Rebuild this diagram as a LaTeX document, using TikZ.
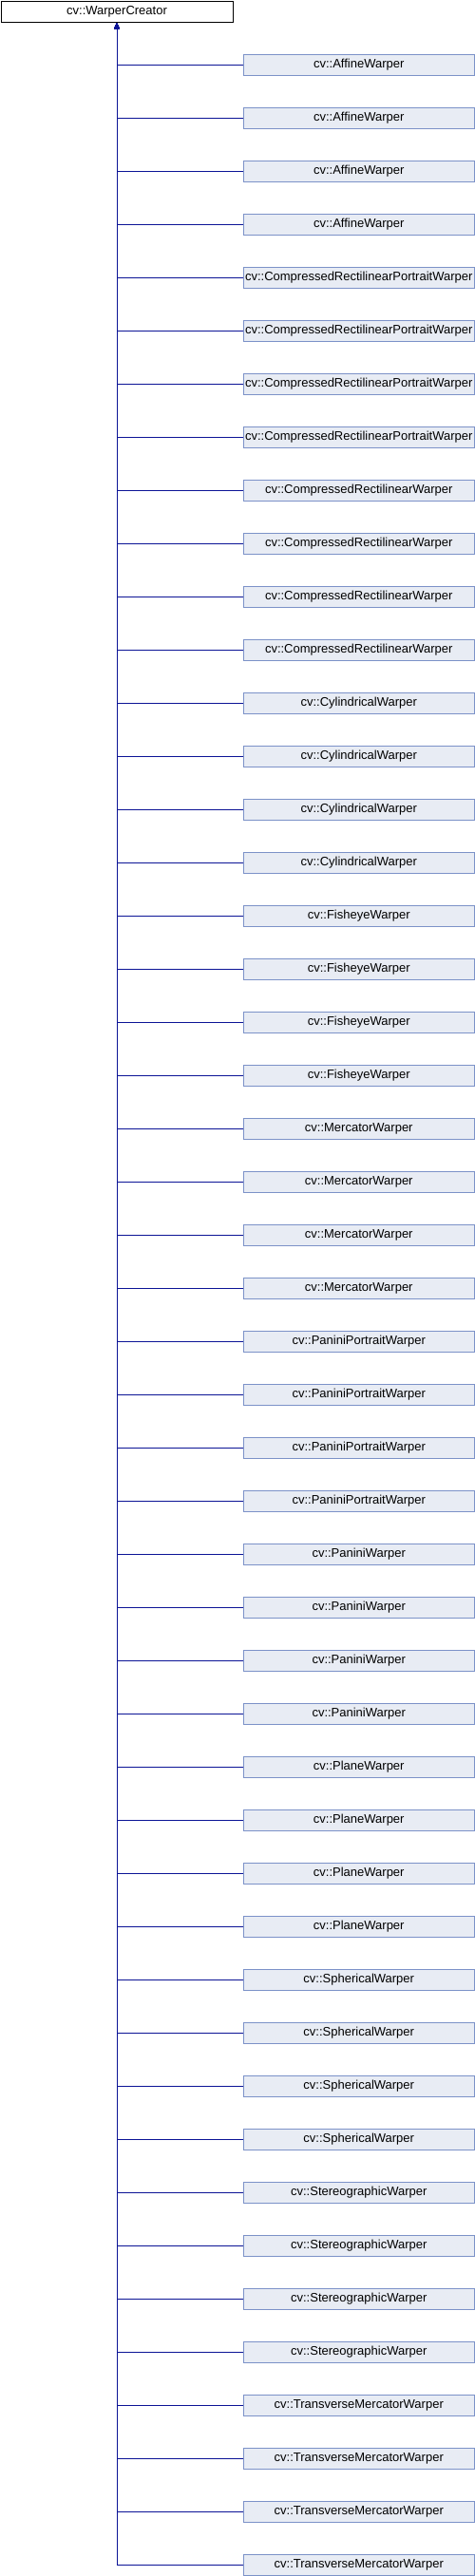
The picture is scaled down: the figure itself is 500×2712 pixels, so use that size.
\documentclass[tikz,border=0pt]{standalone}
\usepackage{fontspec}
\setmainfont{Liberation Sans}
\usetikzlibrary{arrows.meta}
\definecolor{edgeblue}{RGB}{12,20,150}
\definecolor{boxfill}{RGB}{232,236,244}
\definecolor{boxdraw}{RGB}{124,146,200}
\tikzset{
  basebox/.style={draw=black,fill=white,line width=1pt,minimum width=244pt,minimum height=22.5pt,inner sep=0pt,anchor=north west,font=\fontsize{13pt}{15pt}\selectfont},
  childbox/.style={draw=boxdraw,fill=boxfill,line width=1pt,minimum width=243.5pt,minimum height=22.5pt,inner sep=0pt,anchor=north west,font=\fontsize{13pt}{15pt}\selectfont},
  edge/.style={draw=edgeblue,line width=1pt,-{Triangle[length=6pt,width=5pt]}}
}
\begin{document}
\begin{tikzpicture}[x=1pt,y=-1pt]
\useasboundingbox (0,0) rectangle (500,2712);
\node[basebox] (top) at (0.5,0.5) {cv::WarperCreator};
\foreach \nm [count=\k from 0] in {AffineWarper,CompressedRectilinearPortraitWarper,CompressedRectilinearWarper,CylindricalWarper,FisheyeWarper,MercatorWarper,PaniniPortraitWarper,PaniniWarper,PlaneWarper,SphericalWarper,StereographicWarper,TransverseMercatorWarper}{
  \foreach \j in {0,1,2,3}{
    \pgfmathtruncatemacro{\idx}{4*\k+\j}
    \pgfmathsetmacro{\yy}{56.5+56*\idx}
    \node[childbox] (c\idx) at (255.5,\yy) {cv::\nm};
    \draw[edge] (c\idx.west) -| (top.south);
  }
}
\end{tikzpicture}
\end{document}
